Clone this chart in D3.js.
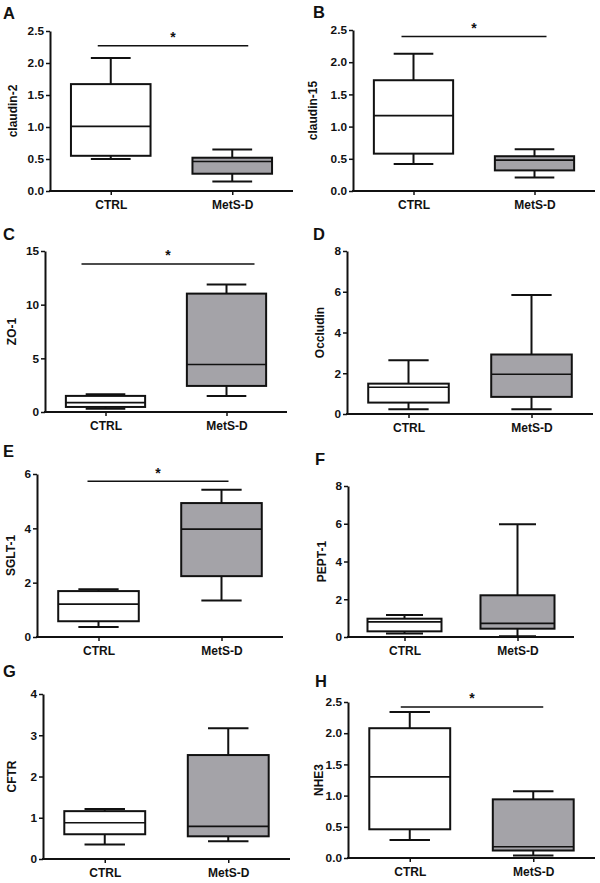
<!DOCTYPE html>
<html><head><meta charset="utf-8">
<script src="https://cdn.jsdelivr.net/npm/d3@7"></script>
<style>
html,body{margin:0;padding:0;background:#fff;}
svg text{font-family:"Liberation Sans",Arial,sans-serif;font-weight:bold;fill:#111;}
</style></head>
<body><svg id="chart" width="600" height="883"></svg>
<script>
// ---------- data ----------
const categories = ["CTRL", "MetS-D"];
const panelLetters = ["A", "B", "C", "D", "E", "F", "G", "H"];
const yLabels = ["claudin-2", "claudin-15", "ZO-1", "Occludin", "SGLT-1", "PEPT-1", "CFTR", "NHE3"];
// [whisker low, Q1, median, Q3, whisker high]
const ctrlStats = [
  [0.50, 0.55, 1.01, 1.67, 2.08],
  [0.42, 0.58, 1.17, 1.72, 2.13],
  [0.31, 0.47, 0.87, 1.50, 1.65],
  [0.23, 0.56, 1.31, 1.49, 2.64],
  [0.37, 0.58, 1.21, 1.69, 1.76],
  [0.18, 0.30, 0.80, 0.97, 1.17],
  [0.35, 0.60, 0.88, 1.16, 1.21],
  [0.29, 0.46, 1.30, 2.08, 2.34]
];
const metsStats = [
  [0.15, 0.27, 0.46, 0.52, 0.65],
  [0.21, 0.32, 0.48, 0.54, 0.65],
  [1.50, 2.43, 4.42, 11.03, 11.87],
  [0.23, 0.84, 1.95, 2.92, 5.84],
  [1.34, 2.24, 3.97, 4.93, 5.42],
  [0.04, 0.44, 0.72, 2.21, 5.98],
  [0.43, 0.55, 0.79, 2.52, 3.17],
  [0.04, 0.12, 0.18, 0.94, 1.07]
];
const yMax = [2.5, 2.5, 15, 8, 6, 8, 4, 2.5];
const yTicks = [
  [0, 0.5, 1.0, 1.5, 2.0, 2.5],
  [0, 0.5, 1.0, 1.5, 2.0, 2.5],
  [0, 5, 10, 15],
  [0, 2, 4, 6, 8],
  [0, 2, 4, 6],
  [0, 2, 4, 6, 8],
  [0, 1, 2, 3, 4],
  [0, 0.5, 1.0, 1.5, 2.0, 2.5]
];
const tickFormats = [".1f", ".1f", "d", "d", "d", "d", "d", ".1f"];
// significance bar level (null = not significant)
const sigLevel = [2.27, 2.40, 13.8, null, 5.73, null, null, 2.42];

// ---------- layout ----------
const layout = [
  {left: 50,  right: 293, top: 31,  bottom: 191, letterX: 3,   letterY: 19,  labelX: 13,  sig: [-13, 16]},
  {left: 353, right: 595, top: 30,  bottom: 191, letterX: 313, letterY: 18,  labelX: 313, sig: [-12, 12]},
  {left: 45,  right: 287, top: 251, bottom: 412, letterX: 3,   letterY: 240, labelX: 12,  sig: [-24, 28]},
  {left: 347, right: 593, top: 251, bottom: 414, letterX: 313, letterY: 240, labelX: 320, sig: null},
  {left: 37,  right: 283, top: 474, bottom: 637, letterX: 3,   letterY: 457, labelX: 11,  sig: [-11, 7]},
  {left: 348, right: 574, top: 486, bottom: 637, letterX: 315, letterY: 465, labelX: 322, sig: null},
  {left: 43,  right: 290, top: 694, bottom: 859, letterX: 3,   letterY: 677, labelX: 12,  sig: null},
  {left: 348, right: 595, top: 702, bottom: 858, letterX: 315, letterY: 687, labelX: 319, sig: [-9, 10]}
];
const fills = ["#ffffff", "#a4a3a8"];
const stroke = "#111";

const svg = d3.select("#chart");

panelLetters.forEach((letter, i) => {
  const L = layout[i];
  const g = svg.append("g");
  const x = d3.scalePoint().domain(categories).range([L.left, L.right]).padding(0.5);
  const y = d3.scaleLinear().domain([0, yMax[i]]).range([L.bottom, L.top]);
  const boxW = x.step() * 0.655;
  const capW = boxW * 0.5;

  // letter
  g.append("text").attr("x", L.letterX).attr("y", L.letterY)
    .attr("font-size", 16.5).text(letter);

  // y label
  g.append("text")
    .attr("transform", `translate(${L.labelX + 4},${(L.top + L.bottom) / 2}) rotate(-90)`)
    .attr("text-anchor", "middle").attr("font-size", 12).text(yLabels[i]);

  // boxes
  [ctrlStats[i], metsStats[i]].forEach((s, k) => {
    const cx = x(categories[k]);
    const bg = g.append("g").attr("stroke", stroke).attr("fill", "none");
    bg.append("line").attr("x1", cx).attr("x2", cx).attr("y1", y(s[3])).attr("y2", y(s[4])).attr("stroke-width", 2);
    bg.append("line").attr("x1", cx).attr("x2", cx).attr("y1", y(s[1])).attr("y2", y(s[0])).attr("stroke-width", 2);
    bg.append("line").attr("x1", cx - capW / 2).attr("x2", cx + capW / 2).attr("y1", y(s[4])).attr("y2", y(s[4])).attr("stroke-width", 2);
    bg.append("line").attr("x1", cx - capW / 2).attr("x2", cx + capW / 2).attr("y1", y(s[0])).attr("y2", y(s[0])).attr("stroke-width", 2);
    bg.append("rect").attr("x", cx - boxW / 2).attr("y", y(s[3]))
      .attr("width", boxW).attr("height", y(s[1]) - y(s[3]))
      .attr("fill", fills[k]).attr("stroke-width", 2);
    bg.append("line").attr("x1", cx - boxW / 2).attr("x2", cx + boxW / 2)
      .attr("y1", y(s[2])).attr("y2", y(s[2])).attr("stroke-width", 1.6);
  });

  // axes
  const yAxis = d3.axisLeft(y).tickValues(yTicks[i]).tickFormat(d3.format(tickFormats[i]))
    .tickSizeInner(4).tickSizeOuter(0).tickPadding(2);
  const ya = g.append("g").attr("transform", `translate(${L.left},0)`).call(yAxis);
  ya.select(".domain").attr("stroke", stroke).attr("stroke-width", 2);
  ya.selectAll(".tick line").attr("stroke", stroke).attr("stroke-width", 1.5);
  ya.selectAll(".tick text").attr("font-size", 11.8).attr("fill", "#111");

  const xAxis = d3.axisBottom(x).tickSizeInner(4).tickSizeOuter(0).tickPadding(5);
  const xa = g.append("g").attr("transform", `translate(0,${L.bottom})`).call(xAxis);
  xa.select(".domain").attr("stroke", stroke).attr("stroke-width", 2)
    .attr("d", `M${L.left - 1},0H${L.right}`);
  xa.selectAll(".tick line").attr("stroke", stroke).attr("stroke-width", 1.5);
  xa.selectAll(".tick text").attr("font-size", 12).attr("fill", "#111");

  // significance
  if (sigLevel[i] !== null && L.sig) {
    const x1 = x(categories[0]) + L.sig[0];
    const x2 = x(categories[1]) + L.sig[1];
    const yy = y(sigLevel[i]);
    g.append("line").attr("x1", x1).attr("x2", x2).attr("y1", yy).attr("y2", yy)
      .attr("stroke", stroke).attr("stroke-width", 1.5);
    g.append("text").attr("x", (x1 + x2) / 2).attr("y", yy - 3.5)
      .attr("text-anchor", "middle").attr("font-size", 14).text("*");
  }
});
</script>
</body></html>
